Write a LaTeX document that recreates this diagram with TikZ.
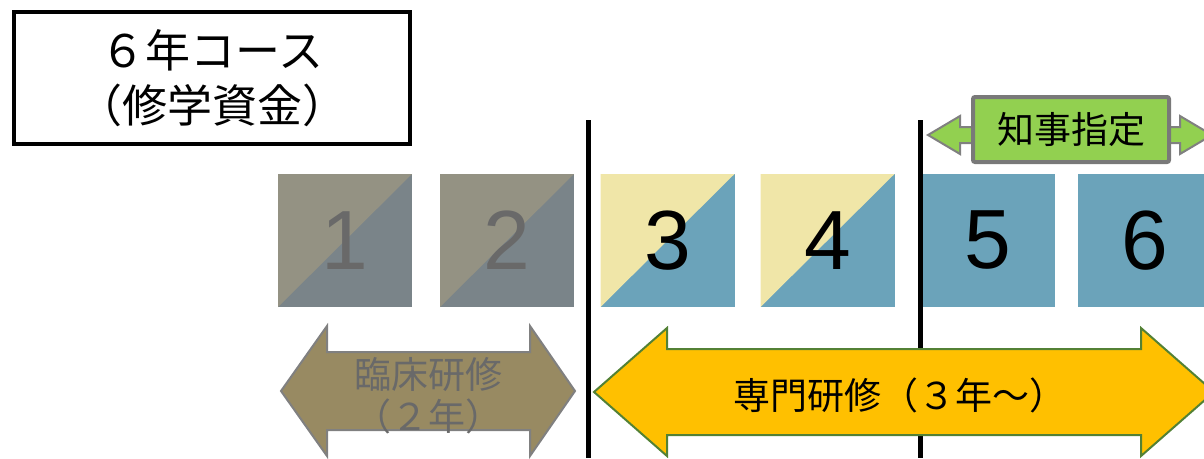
\documentclass[tikz,border=0pt]{standalone}
\usepackage{fontspec}
\newfontfamily\jpfont{Noto Sans CJK JP}
\newfontfamily\numfont{Liberation Sans}
\usetikzlibrary{positioning}

\definecolor{oldtop}{RGB}{148,146,131}
\definecolor{oldbot}{RGB}{122,132,137}
\definecolor{paleyel}{RGB}{240,230,168}
\definecolor{steel}{RGB}{107,163,186}
\definecolor{tan}{RGB}{152,138,98}
\definecolor{amber}{RGB}{255,192,0}
\definecolor{leaf}{RGB}{83,129,53}
\definecolor{lime}{RGB}{146,208,80}
\definecolor{dimtext}{RGB}{105,105,105}

\begin{document}
\begin{tikzpicture}[
  x=1pt, y=-1pt,
  year/.style={minimum width=134pt, minimum height=133pt, inner sep=0pt,
    font=\numfont\fontsize{84}{84}\selectfont},
  split/.style 2 args={fill=#2, path picture={
    \fill[#1] (path picture bounding box.south west) -- (path picture bounding box.north west)
      -- (path picture bounding box.north east) -- cycle;}},
  band/.style={line width=2pt, line join=miter},
  divider/.style={line width=5pt}
]
\useasboundingbox (0,0) rectangle (1204,458);
\clip (0,0) rectangle (1204,458);

% title
\node[draw, line width=4.5pt, minimum width=396pt, minimum height=132pt, align=center,
  font=\jpfont\fontsize{45}{55}\selectfont] (title) at (212,78) {６年コース\\（修学資金）};

% years
\node[year, split={oldtop}{oldbot}, text=dimtext] (y1) at (345,240.5) {1};
\node[year, split={oldtop}{oldbot}, text=dimtext] (y2) at (507,240.5) {2};
\node[year, split={paleyel}{steel}] (y3) at (667.5,240.5) {3};
\node[year, split={paleyel}{steel}] (y4) at (827.5,240.5) {4};
\node[year, fill=steel] (y5) at (988,240.5) {5};
\node[year, fill=steel] (y6) at (1145,240.5) {6};

% dividers
\coordinate (d1top) at (588,120);
\coordinate (d1bot) at (588,458);
\coordinate (d2top) at (920.5,120);
\coordinate (d2bot) at (920.5,458);
\draw[divider] (d1top) -- (d1bot);
\draw[divider] (d2top) -- (d2bot);

% governor band
\draw[band, draw=gray, fill=lime] (928,135) -- (960,116) -- (960,127) -- (1180,127) -- (1180,116)
  -- (1212,135) -- (1180,154) -- (1180,143) -- (960,143) -- (960,154) -- cycle;
\node[draw=gray!95!black, line width=4pt, fill=lime, rounded corners=2pt,
  minimum width=196pt, minimum height=65pt, inner sep=0pt,
  font=\jpfont\fontsize{37}{37}\selectfont] (gov) at (1071,129.5) {知事指定};

% training bands
\draw[band, draw=gray, fill=tan] (281,391) -- (327,326) -- (327,352) -- (530,352) -- (530,326)
  -- (575,391) -- (530,456) -- (530,430) -- (327,430) -- (327,456) -- cycle;
\node[align=center, text=dimtext, font=\jpfont\fontsize{37}{42}\selectfont] (clin) at (428,396)
  {臨床研修\\（２年）};

\draw[band, draw=leaf, fill=amber] (594,392) -- (667,328) -- (667,349) -- (1141,349) -- (1141,328)
  -- (1214,392) -- (1141,456) -- (1141,435) -- (667,435) -- (667,456) -- cycle;
\node[font=\jpfont\fontsize{37}{37}\selectfont] (spec) at (900,395) {専門研修（３年～）};
\end{tikzpicture}
\end{document}
